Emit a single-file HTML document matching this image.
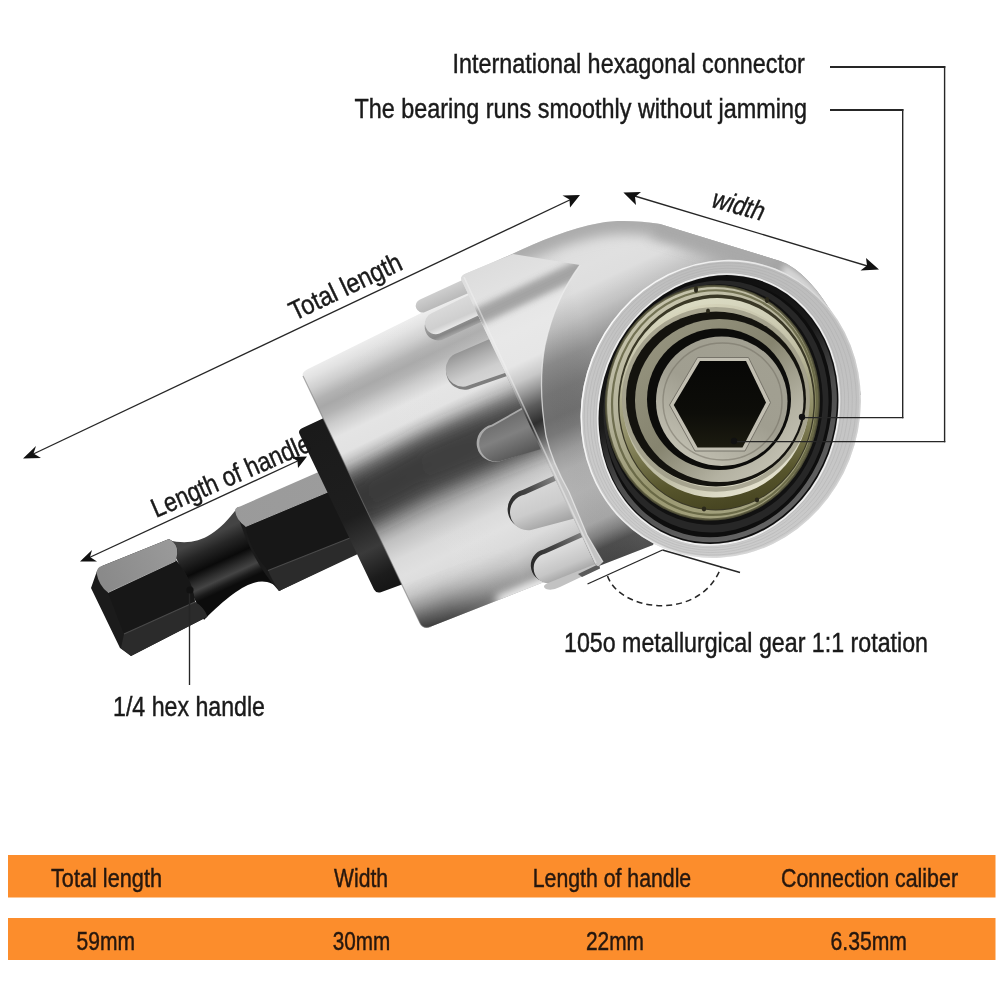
<!DOCTYPE html>
<html><head><meta charset="utf-8">
<style>
html,body{margin:0;padding:0;background:#fff;}
body{width:1000px;height:1000px;overflow:hidden;font-family:"Liberation Sans",sans-serif;}
svg{position:absolute;left:0;top:0;display:block}
text{font-family:"Liberation Sans",sans-serif;fill:#1a1a1a;stroke:#1a1a1a;stroke-width:0.45px}
</style></head>
<body>
<svg width="1000" height="1000" viewBox="0 0 1000 1000">
<defs>
<linearGradient id="gHexTop" gradientUnits="userSpaceOnUse" x1="100" y1="570" x2="330" y2="470">
  <stop offset="0" stop-color="#8a8a8a"/><stop offset="0.3" stop-color="#999"/><stop offset="1" stop-color="#9c9c9c"/>
</linearGradient>
<linearGradient id="gNeck" gradientUnits="userSpaceOnUse" x1="205" y1="538" x2="228" y2="588">
  <stop offset="0" stop-color="#444"/><stop offset="0.22" stop-color="#262626"/><stop offset="0.5" stop-color="#0a0a0a"/><stop offset="0.68" stop-color="#2e2e2e"/><stop offset="0.8" stop-color="#444"/><stop offset="0.92" stop-color="#1c1c1c"/><stop offset="1" stop-color="#0c0c0c"/>
</linearGradient>
<linearGradient id="gCollarB" gradientUnits="userSpaceOnUse" x1="310" y1="425" x2="392" y2="590">
  <stop offset="0" stop-color="#1a1a1a"/><stop offset="0.55" stop-color="#1e1e1e"/><stop offset="0.75" stop-color="#3a3a3a"/><stop offset="0.9" stop-color="#1c1c1c"/><stop offset="1" stop-color="#141414"/>
</linearGradient>
<linearGradient id="gBody" gradientUnits="userSpaceOnUse" x1="304" y1="371" x2="427.5" y2="627.5">
  <stop offset="0" stop-color="#ececec"/>
  <stop offset="0.03" stop-color="#e2e2e2"/>
  <stop offset="0.07" stop-color="#cecece"/>
  <stop offset="0.11" stop-color="#b2b2b2"/>
  <stop offset="0.14" stop-color="#a8a8a8"/>
  <stop offset="0.17" stop-color="#b2b2b2"/>
  <stop offset="0.21" stop-color="#cccccc"/>
  <stop offset="0.26" stop-color="#e4e4e4"/>
  <stop offset="0.32" stop-color="#e2e2e2"/>
  <stop offset="0.36" stop-color="#c0c0c0"/>
  <stop offset="0.40" stop-color="#929292"/>
  <stop offset="0.46" stop-color="#707070"/>
  <stop offset="0.56" stop-color="#707070"/>
  <stop offset="0.62" stop-color="#9a9a9a"/>
  <stop offset="0.67" stop-color="#c0c0c0"/>
  <stop offset="0.74" stop-color="#dadada"/>
  <stop offset="0.80" stop-color="#e0e0e0"/>
  <stop offset="0.87" stop-color="#dadada"/>
  <stop offset="0.92" stop-color="#c8c8c8"/>
  <stop offset="0.97" stop-color="#a8a8a8"/>
  <stop offset="1" stop-color="#909090"/>
</linearGradient>
<linearGradient id="gBodyX" gradientUnits="userSpaceOnUse" x1="365" y1="500" x2="560" y2="410">
  <stop offset="0" stop-color="#fff" stop-opacity="0"/><stop offset="0.5" stop-color="#fff" stop-opacity="0.03"/><stop offset="1" stop-color="#fff" stop-opacity="0.10"/>
</linearGradient>
<linearGradient id="gDarkBand" gradientUnits="userSpaceOnUse" x1="340" y1="507" x2="550" y2="417">
  <stop offset="0" stop-color="#363636" stop-opacity="0.97"/><stop offset="0.6" stop-color="#3c3c3c" stop-opacity="0.95"/><stop offset="1" stop-color="#444444" stop-opacity="0.9"/>
</linearGradient>
<filter id="blur7" x="-30%" y="-30%" width="160%" height="160%"><feGaussianBlur stdDeviation="7"/></filter>
<clipPath id="cpBody"><path d="M309,368.5 L480,284 L610,556 L431,626.5 Q423,629.5 420,623 L303,376 Q301,372 309,368.5 Z"/></clipPath>
<linearGradient id="gDarkBot" gradientUnits="userSpaceOnUse" x1="420" y1="628" x2="526.8" y2="586.6">
  <stop offset="0" stop-color="#343434" stop-opacity="0.95"/><stop offset="0.3" stop-color="#3c3c3c" stop-opacity="0.7"/><stop offset="0.65" stop-color="#484848" stop-opacity="0.3"/><stop offset="1" stop-color="#505050" stop-opacity="0"/>
</linearGradient>
<filter id="blur5" x="-30%" y="-30%" width="160%" height="160%"><feGaussianBlur stdDeviation="5"/></filter>
<filter id="blur9" x="-30%" y="-30%" width="160%" height="160%"><feGaussianBlur stdDeviation="9"/></filter>
<linearGradient id="gBotPerp" gradientUnits="userSpaceOnUse" x1="440" y1="623" x2="422" y2="576.5">
  <stop offset="0" stop-color="#303030" stop-opacity="0.97"/><stop offset="0.2" stop-color="#404040" stop-opacity="0.8"/><stop offset="0.45" stop-color="#555" stop-opacity="0.5"/><stop offset="0.7" stop-color="#666" stop-opacity="0.22"/><stop offset="1" stop-color="#777" stop-opacity="0"/>
</linearGradient>
<linearGradient id="gAxialFade" gradientUnits="userSpaceOnUse" x1="415" y1="630" x2="525" y2="586">
  <stop offset="0" stop-color="#fff"/><stop offset="0.35" stop-color="#bbb"/><stop offset="0.7" stop-color="#444"/><stop offset="1" stop-color="#000"/>
</linearGradient>
<mask id="mBot" maskUnits="userSpaceOnUse" x="300" y="480" width="340" height="200"><rect x="300" y="480" width="340" height="200" fill="url(#gAxialFade)"/></mask>
<linearGradient id="gRib1" gradientUnits="userSpaceOnUse" x1="440" y1="290" x2="446" y2="304">
  <stop offset="0" stop-color="#cfcfcf"/><stop offset="1" stop-color="#b8b8b8"/>
</linearGradient>
<linearGradient id="gRibSh" gradientUnits="userSpaceOnUse" x1="452" y1="320" x2="459" y2="336">
  <stop offset="0" stop-color="#9a9a9a"/><stop offset="0.55" stop-color="#868686"/><stop offset="1" stop-color="#bdbdbd"/>
</linearGradient>
<linearGradient id="gRib2" gradientUnits="userSpaceOnUse" x1="450" y1="303" x2="459" y2="324">
  <stop offset="0" stop-color="#dadada"/><stop offset="0.75" stop-color="#cfcfcf"/><stop offset="1" stop-color="#e6e6e6"/>
</linearGradient>
<linearGradient id="gRib3" gradientUnits="userSpaceOnUse" x1="470" y1="346" x2="486" y2="382"><stop offset="0" stop-color="#929292"/><stop offset="0.35" stop-color="#b2b2b2"/><stop offset="0.7" stop-color="#cecece"/><stop offset="1" stop-color="#d6d6d6"/></linearGradient>
<linearGradient id="gRib3b" gradientUnits="userSpaceOnUse" x1="505" y1="416" x2="522" y2="455"><stop offset="0" stop-color="#6c6c6c"/><stop offset="0.45" stop-color="#808080"/><stop offset="1" stop-color="#585858"/></linearGradient>
<linearGradient id="gRib4" gradientUnits="userSpaceOnUse" x1="540" y1="488" x2="554" y2="525">
  <stop offset="0" stop-color="#d6d6d6"/><stop offset="0.5" stop-color="#cccccc"/><stop offset="1" stop-color="#a4a4a4"/>
</linearGradient>
<linearGradient id="gRib5" gradientUnits="userSpaceOnUse" x1="560" y1="546" x2="573" y2="578">
  <stop offset="0" stop-color="#dedede"/><stop offset="0.6" stop-color="#c6c6c6"/><stop offset="1" stop-color="#9c9c9c"/>
</linearGradient>
<linearGradient id="gRibShadow4" gradientUnits="userSpaceOnUse" x1="510" y1="505" x2="560" y2="482">
  <stop offset="0" stop-color="#2c2c2c"/><stop offset="0.45" stop-color="#484848"/><stop offset="1" stop-color="#8c8c8c"/>
</linearGradient>
<linearGradient id="gRibShadow5" gradientUnits="userSpaceOnUse" x1="533" y1="562" x2="585" y2="538">
  <stop offset="0" stop-color="#2a2a2a"/><stop offset="0.45" stop-color="#444444"/><stop offset="1" stop-color="#808080"/>
</linearGradient>
<linearGradient id="gHeadSurf" gradientUnits="userSpaceOnUse" x1="560" y1="222" x2="720.7" y2="566.3">
  <stop offset="0" stop-color="#d4d4d4"/>
  <stop offset="0.06" stop-color="#dcdcdc"/>
  <stop offset="0.134" stop-color="#dedede"/>
  <stop offset="0.184" stop-color="#dcdcdc"/>
  <stop offset="0.247" stop-color="#bebebe"/>
  <stop offset="0.329" stop-color="#8a8a8a"/>
  <stop offset="0.40" stop-color="#747474"/>
  <stop offset="0.462" stop-color="#6e6e6e"/>
  <stop offset="0.50" stop-color="#787878"/>
  <stop offset="0.553" stop-color="#9c9c9c"/>
  <stop offset="0.60" stop-color="#aeaeae"/>
  <stop offset="0.667" stop-color="#b2b2b2"/>
  <stop offset="0.755" stop-color="#a6a6a6"/>
  <stop offset="0.79" stop-color="#808080"/>
  <stop offset="0.825" stop-color="#4c4c4c"/>
  <stop offset="0.9" stop-color="#404040"/>
  <stop offset="1" stop-color="#404040"/>
</linearGradient>
<linearGradient id="gHeadSurfX" gradientUnits="userSpaceOnUse" x1="545" y1="400" x2="600" y2="385">
  <stop offset="0" stop-color="#000" stop-opacity="0"/><stop offset="1" stop-color="#fff" stop-opacity="0.06"/>
</linearGradient>
<linearGradient id="gWedge" gradientUnits="userSpaceOnUse" x1="500" y1="255" x2="589.7" y2="447">
  <stop offset="0" stop-color="#dcdcdc"/>
  <stop offset="0.21" stop-color="#e4e4e4"/>
  <stop offset="0.36" stop-color="#e8e8e8"/>
  <stop offset="0.50" stop-color="#e6e6e6"/>
  <stop offset="0.58" stop-color="#c8c8c8"/>
  <stop offset="0.64" stop-color="#989898"/>
  <stop offset="0.71" stop-color="#5c5c5c"/>
  <stop offset="0.79" stop-color="#2e2e2e"/>
  <stop offset="0.86" stop-color="#5a5a5a"/>
  <stop offset="0.92" stop-color="#909090"/>
  <stop offset="1" stop-color="#c4c4c4"/>
</linearGradient>
<linearGradient id="gRim" gradientUnits="userSpaceOnUse" x1="700" y1="258" x2="740" y2="556">
  <stop offset="0" stop-color="#bcbcbc"/>
  <stop offset="0.4" stop-color="#c4c4c4"/>
  <stop offset="1" stop-color="#cccccc"/>
</linearGradient>
<radialGradient id="gBlackRing" gradientUnits="userSpaceOnUse" cx="715" cy="400" r="135">
  <stop offset="0.75" stop-color="#2e2e2e"/><stop offset="0.86" stop-color="#1a1a1a"/><stop offset="1" stop-color="#0e0e0e"/>
</radialGradient>
<linearGradient id="gRaceO" gradientUnits="userSpaceOnUse" x1="640" y1="300" x2="790" y2="510">
  <stop offset="0" stop-color="#c8c6ae"/><stop offset="0.35" stop-color="#b4b29a"/><stop offset="0.65" stop-color="#98966f"/><stop offset="1" stop-color="#a8a684"/>
</linearGradient>
<linearGradient id="gShield" gradientUnits="userSpaceOnUse" x1="690" y1="298" x2="735" y2="510">
  <stop offset="0" stop-color="#dcdcc4"/><stop offset="0.3" stop-color="#c2c0a6"/><stop offset="0.6" stop-color="#8e8c64"/><stop offset="0.85" stop-color="#57552c"/><stop offset="1" stop-color="#454320"/>
</linearGradient>
<linearGradient id="gRaceI" gradientUnits="userSpaceOnUse" x1="650" y1="330" x2="790" y2="480">
  <stop offset="0" stop-color="#96947f"/><stop offset="0.45" stop-color="#86846f"/><stop offset="0.75" stop-color="#b4b2a2"/><stop offset="1" stop-color="#cac8ba"/>
</linearGradient>
<linearGradient id="gHexPiece" gradientUnits="userSpaceOnUse" x1="760" y1="345" x2="690" y2="460">
  <stop offset="0" stop-color="#a2a092"/><stop offset="0.5" stop-color="#a09e90"/><stop offset="1" stop-color="#c2c0b2"/>
</linearGradient>
<linearGradient id="gHole" gradientUnits="userSpaceOnUse" x1="720" y1="361" x2="720" y2="448">
  <stop offset="0" stop-color="#070706"/><stop offset="0.6" stop-color="#0d0d09"/><stop offset="1" stop-color="#1c1b10"/>
</linearGradient>
<clipPath id="cpHead"><path d="M466,273.5 L510,255 C540,241 570,228 600,223 C618,219.5 640,221 660,224 L780,261 C812,272 850,328 861,395 L723,404 L653,545 L599,566 Q596,567 594.5,563 L461.5,280 Q460,276 466,273.5 Z"/></clipPath>
<filter id="blur3" x="-20%" y="-20%" width="140%" height="140%"><feGaussianBlur stdDeviation="3"/></filter>
<filter id="blur6" x="-20%" y="-20%" width="140%" height="140%"><feGaussianBlur stdDeviation="6"/></filter>
<linearGradient id="gLip" gradientUnits="userSpaceOnUse" x1="660" y1="310" x2="770" y2="495">
  <stop offset="0" stop-color="#dad8be"/><stop offset="0.35" stop-color="#c2c0a8"/><stop offset="0.7" stop-color="#c0bea6"/><stop offset="0.9" stop-color="#dedcc8"/><stop offset="1" stop-color="#ece8d4"/>
</linearGradient>
<linearGradient id="gRimShade" gradientUnits="userSpaceOnUse" x1="640" y1="330" x2="800" y2="490">
  <stop offset="0" stop-color="#555" stop-opacity="0"/>
  <stop offset="0.35" stop-color="#555" stop-opacity="0"/>
  <stop offset="0.7" stop-color="#505050" stop-opacity="0.7"/>
  <stop offset="1" stop-color="#484848" stop-opacity="0.85"/>
</linearGradient>
<filter id="blur2" x="-20%" y="-20%" width="140%" height="140%"><feGaussianBlur stdDeviation="2.2"/></filter>
<linearGradient id="gRimShade2" gradientUnits="userSpaceOnUse" x1="770" y1="400" x2="850" y2="415">
  <stop offset="0" stop-color="#555" stop-opacity="0"/>
  <stop offset="0.5" stop-color="#555" stop-opacity="0.25"/>
  <stop offset="1" stop-color="#505050" stop-opacity="0.7"/>
</linearGradient>
<linearGradient id="gRimTint" gradientUnits="userSpaceOnUse" x1="660" y1="270" x2="760" y2="550">
  <stop offset="0" stop-color="#000" stop-opacity="0.10"/>
  <stop offset="0.5" stop-color="#000" stop-opacity="0.02"/>
  <stop offset="1" stop-color="#fff" stop-opacity="0.18"/>
</linearGradient>
<clipPath id="cpWedge"><path d="M466,273.5 L513,254 L580,265 C566,284 552,312 545,345 C540,372 540,400 546,436 C551,458 560,476 569,492 L587,535 L603,562 L599,566 Q596,567 594.5,563 L461.5,280 Q460,276 466,273.5 Z"/></clipPath>
<linearGradient id="gRimEdge" gradientUnits="userSpaceOnUse" x1="590" y1="400" x2="800" y2="420">
  <stop offset="0" stop-color="#fafafa" stop-opacity="0.95"/>
  <stop offset="0.6" stop-color="#f4f4f4" stop-opacity="0.7"/>
  <stop offset="1" stop-color="#eeeeee" stop-opacity="0.3"/>
</linearGradient>
<linearGradient id="gRingBand" gradientUnits="userSpaceOnUse" x1="640" y1="320" x2="800" y2="500">
  <stop offset="0" stop-color="#5c5c5c" stop-opacity="0"/>
  <stop offset="0.35" stop-color="#5c5c5c" stop-opacity="0.15"/>
  <stop offset="0.6" stop-color="#5c5c5c" stop-opacity="0.8"/>
  <stop offset="1" stop-color="#626262" stop-opacity="1"/>
</linearGradient>

</defs>
<rect width="1000" height="1000" fill="#ffffff"/>

<!-- ===== TOOL ===== -->
<g id="tool">
<!-- ===== handle (hex shank) ===== -->
<g id="handle">
  <!-- neck groove -->
  <path d="M168,540 C195,547 215,538 238,507 L281,591 C263,571 240,584 204,620 Z" fill="url(#gNeck)"/>
  <!-- left hex section -->
  <path d="M97,571 L91,588 L120,648 L131,656 L207,617 Q204,607 195,602 Q192,578 176,560 Q181,545 169,539 L102,566 Z" fill="#1b1b1b"/>
  <path d="M96.5,573 Q97,567 102,566 L169,539 Q181,545 175.5,561 L108,592.5 Q99,586 96.5,573 Z" fill="url(#gHexTop)"/>
  <path d="M108,592.5 L175.5,561 Q192,578 195,602 L124,634 Z" fill="#171717"/>
  <path d="M124,634 L195,602 Q204,607 207.5,616.5 L131,656 L121,648 Z" fill="#2b2b2b"/>
  <path d="M124,634 L195,602" stroke="#4a4a4a" stroke-width="1.2" fill="none"/>
  <path id="edgeL" d="M108,592.5 L175.5,561" stroke="#a8a8a8" stroke-width="1" fill="none"/>
  <!-- right hex section -->
  <path d="M236,509 L330,468 L360,552 L279,591 Q250,560 236,509 Z" fill="#1b1b1b"/>
  <path d="M235,510 Q236,507 240,506.5 L330,467 L335,489 L245.5,526.5 Q236,520 235,510 Z" fill="url(#gHexTop)"/>
  <path d="M245.5,526.5 L335,489 L350,541 L268,570.5 Q250,550 245.5,526.5 Z" fill="#171717"/>
  <path d="M268,570.5 L350,538 L360,553 L279,591 Q272,580 268,570.5 Z" fill="#2b2b2b"/>
  <path d="M268,570.5 L350,538" stroke="#4a4a4a" stroke-width="1.2" fill="none"/>
  <path d="M245.5,526.5 L335,489" stroke="#a8a8a8" stroke-width="1" fill="none"/>
</g>
<!-- ===== black collar ===== -->
<path d="M303.5,427.5 L326,417 L406,583 L381.5,592 Q376.5,594 374,589.5 L299.5,434 Q297.5,430 303.5,427.5 Z" fill="url(#gCollarB)"/>
<!-- ===== body ===== -->
<path d="M309,368.5 L480,284 L610,556 L431,626.5 Q423,629.5 420,623 L303,376 Q301,372 309,368.5 Z" fill="url(#gBody)"/>
<path d="M309,368.5 L480,284 L610,556 L431,626.5 Q423,629.5 420,623 L303,376 Q301,372 309,368.5 Z" fill="url(#gBodyX)"/>
<g clip-path="url(#cpBody)"><path d="M325,489 L340,482 L361,472 L380,462 L425,438 L465,421 L500,407 L555,385 L555,441 L500,463 L465,477 L425,494 L380,518 L361,528 L340,538 L325,545 Z" fill="url(#gDarkBand)" filter="url(#blur9)"/><path d="M380,660 L600,575 L580,520 L360,600 Z" fill="url(#gBotPerp)" mask="url(#mBot)"/><path id="botHi" d="M498,603 L610,558" fill="none" stroke="#f6f6f6" stroke-opacity="0.92" stroke-width="16" filter="url(#blur5)"/></g>
<path id="bodyEdge" d="M303,376 L420,623 Q423,629.5 431,626.5" fill="none" stroke="#707070" stroke-opacity="0.55" stroke-width="1.2"/>
<!-- ===== ribs on body ===== -->
<g id="ribs">
<path d="M470.0,276.5 L420.0,299.5 A6.7,6.7 0 0 0 425.0,312.0 L480.0,288.0 Z" fill="url(#gRib1)" />
<path d="M478.0,291.5 L433.0,314.0 A13.8,13.8 0 0 0 442.0,340.0 L492.0,317.0 Z" fill="url(#gRibSh)" />
<path d="M478.0,290.5 L432.0,313.0 A10.9,10.9 0 0 0 439.5,333.5 L488.0,311.0 Z" fill="url(#gRib2)" />
<path d="M500.0,335.5 L459.0,353.5 A18.6,18.6 0 0 0 468.0,389.5 L516.0,373.0 Z" fill="#7e7e7e" />
<path d="M500.0,334.5 L458.5,352.5 A17.4,17.4 0 0 0 465.5,386.5 L514.0,370.0 Z" fill="url(#gRib3)" />
<path d="M531.0,402.5 L491.6,424.8 A18.7,18.7 0 0 0 499.2,461.5 L547.0,446.0 Z" fill="#aaaaaa" />
<path d="M532.0,404.0 L492.8,426.2 A17.9,17.9 0 0 0 499.6,461.3 L548.0,447.0 Z" fill="url(#gRib3b)" />
<path d="M560.0,473.0 L522.5,490.0 A19.9,19.9 0 0 0 530.0,529.0 L578.0,516.5 Z" fill="url(#gRibShadow4)" />
<path d="M562.0,478.0 L525.0,494.5 A18.0,18.0 0 0 0 531.0,530.0 L580.0,517.0 Z" fill="url(#gRib4)" />
<path d="M584.0,531.0 L543.5,549.5 A16.4,16.4 0 0 0 551.0,581.5 L598.0,561.5 Z" fill="url(#gRibShadow5)" />
<path d="M586.0,535.5 L545.5,553.5 A15.1,15.1 0 0 0 552.0,583.0 L600.0,563.0 Z" fill="url(#gRib5)" />
<path d="M548,583 Q541,586 546,589 Q552,591 560,587 L600,568 L598,563 Z" fill="#c2c2c2"/>
<path d="M578,574 L599,564 L600,568.5 L582,577 Z" fill="#5a5a5a"/>
</g>
<!-- ===== head (elbow + socket) ===== -->
<g id="head">
  <g clip-path="url(#cpHead)">
    <rect x="440" y="200" width="440" height="380" fill="url(#gHeadSurf)"/>
    <rect x="440" y="200" width="440" height="380" fill="url(#gHeadSurfX)"/>
    <!-- edge darkening along top silhouette -->
    <path d="M500,258 C540,241 570,228 600,223 C618,219.5 640,221 660,224 L775,259.5" fill="none" stroke="#acacac" stroke-width="26" filter="url(#blur6)"/>
    <path d="M655,223 L790,265" fill="none" stroke="#a8a8a8" stroke-width="30" filter="url(#blur6)" opacity="0.85"/>
    <path d="M782,270 C812,282 846,330 857,392" fill="none" stroke="#d6d6d6" stroke-width="14" filter="url(#blur3)"/>
    <!-- highlight band -->
  </g>
  <!-- collar + elbow wedge (left of crease) -->
  <path d="M466,273.5 L513,254 L580,265 C566,284 552,312 545,345 C540,372 540,400 546,436 C551,458 560,476 569,492 L587,535 L603,562 L599,566 Q596,567 594.5,563 L461.5,280 Q460,276 466,273.5 Z" fill="url(#gWedge)"/>
  <g clip-path="url(#cpWedge)"><path id="foldBand" d="M452,329 L606,256" fill="none" stroke="#9c9c9c" stroke-width="17" filter="url(#blur3)" opacity="0.9"/></g>
  <path d="M464,277 L596,563" stroke="#f2f2f2" stroke-opacity="0.5" stroke-width="1.6" fill="none"/>
  <path d="M580,265 C566,284 552,312 545,345 C540,372 540,400 546,436 C551,458 560,476 569,492 L587,535 L603,562" stroke="#ececec" stroke-opacity="0.75" stroke-width="1.3" fill="none"/>
</g>
<!-- ===== front face ===== -->
<g id="face">
<ellipse cx="720.7" cy="408.9" rx="138.5" ry="150.6" transform="rotate(21.3 720.7 408.9)" fill="url(#gRim)" />
<ellipse cx="720.26" cy="409.02" rx="134.52" ry="147.6" transform="rotate(20.14 720.26 409.02)" fill="none" stroke="#a4a4a4" stroke-opacity="0.35" stroke-width="0.9"/>
<ellipse cx="719.86" cy="409.13" rx="130.94" ry="144.9" transform="rotate(19.1 719.86 409.13)" fill="none" stroke="#a4a4a4" stroke-opacity="0.3" stroke-width="0.9"/>
<ellipse cx="719.49" cy="409.23" rx="127.55" ry="142.35" transform="rotate(18.11 719.49 409.23)" fill="none" stroke="#a4a4a4" stroke-opacity="0.35" stroke-width="0.9"/>
<ellipse cx="719.12" cy="409.33" rx="124.17" ry="139.8" transform="rotate(17.12 719.12 409.33)" fill="none" stroke="#a4a4a4" stroke-opacity="0.3" stroke-width="0.9"/>
<ellipse cx="718.81" cy="409.42" rx="121.39" ry="137.7" transform="rotate(16.31 718.81 409.42)" fill="none" stroke="#a4a4a4" stroke-opacity="0.3" stroke-width="0.9"/>
<ellipse cx="720.7" cy="408.9" rx="137.7" ry="149.79999999999998" transform="rotate(21.3 720.7 408.9)" fill="none" stroke="url(#gRimEdge)" stroke-width="1.6"/>
<ellipse cx="718.5" cy="409.5" rx="119.6" ry="136.6" transform="rotate(15.5 718.5 409.5)" fill="none" stroke="#f4f4f4" stroke-opacity="0.85" stroke-width="1.6"/>
<ellipse cx="718.5" cy="409.5" rx="118.6" ry="135.6" transform="rotate(15.5 718.5 409.5)" fill="#0e0e0e" />
<ellipse cx="718.1" cy="409.1" rx="115.0" ry="131.79999999999998" transform="rotate(15.5 718.1 409.1)" fill="none" stroke="url(#gRingBand)" stroke-width="5"/>
<ellipse cx="716" cy="406.5" rx="112" ry="126.5" transform="rotate(11 716 406.5)" fill="#2a2a2a" opacity="0.9"/>
<ellipse cx="714" cy="404.5" rx="108.5" ry="120.5" transform="rotate(8 714 404.5)" fill="#111111" />
<ellipse cx="712.4" cy="402.7" rx="106.3" ry="116.9" transform="rotate(6 712.4 402.7)" fill="url(#gRaceO)" />
<ellipse cx="712.4" cy="402.7" rx="106.3" ry="116.9" transform="rotate(6 712.4 402.7)" fill="none" stroke="#55533a" stroke-opacity="0.85" stroke-width="2.2"/>
<ellipse id="raceLine" cx="714.4" cy="402.6" rx="102.3" ry="112.4" transform="rotate(4.5 714.4 402.6)" fill="none" stroke="#5a5a38" stroke-opacity="0.75" stroke-width="2.2"/>
<ellipse cx="716.50" cy="402.50" rx="98.50" ry="108.00" fill="#3a3826" transform="rotate(3 716.5 402.5)"/>
<ellipse cx="716.50" cy="403.75" rx="97.00" ry="105.75" fill="url(#gShield)" transform="rotate(3 716.5 403.7)"/>
<ellipse cx="716.00" cy="400.75" rx="93.50" ry="96.75" fill="url(#gLip)" transform="rotate(2 716 400.7)"/>
<ellipse id="lipInner" cx="716.00" cy="399.4" rx="91.8" ry="90.2" fill="none" stroke="#9c9a86" stroke-opacity="0.8" stroke-width="4.5"/>
<ellipse cx="716.00" cy="399.05" rx="90.00" ry="87.45" fill="#14130e" />
<ellipse cx="719.25" cy="400.50" rx="84.25" ry="81.50" fill="url(#gRaceI)" />
<ellipse cx="719.00" cy="399.25" rx="72.00" ry="70.75" fill="#0c0c0a" />
<ellipse cx="721.75" cy="401.25" rx="65.75" ry="64.75" fill="url(#gHexPiece)" />
<ellipse cx="722.50" cy="401.50" rx="59.50" ry="58.50" fill="none" stroke="#6f6c60" stroke-opacity="0.5" stroke-width="1.4"/>
<path d="M669.5,405 L697.5,357.5 L748.5,357.5 L770.5,402.5 L745,451 L695,451 Z" fill="#c2bfb2" stroke="#77746a" stroke-width="1"/>
<path d="M673.75,405 L700,361 L746,361 L766,402.5 L742.5,447.5 L697.5,447.5 Z" fill="url(#gHole)"/>
<g fill="#2a281a"><ellipse cx="696" cy="289.5" rx="2" ry="3.2"/><ellipse cx="767" cy="300" rx="2" ry="3"/><ellipse cx="708" cy="311" rx="2" ry="2.6"/><ellipse cx="704" cy="509" rx="2.2" ry="2.4"/><ellipse cx="757" cy="500" rx="2.2" ry="2.4"/></g>
</g>

</g>

<!-- ===== leader lines & arrows ===== -->
<g id="lines" fill="none" stroke="#262626" stroke-width="1.35">
<path d="M830,67 H945.3" stroke-width="2.1"/><path d="M944.6,66 V442.3" stroke-width="1.4"/><path d="M945.3,441.6 H734" stroke-width="1.4"/>
<path d="M830,110 H903.4" stroke-width="2.1"/><path d="M902.7,109 V418.3" stroke-width="1.4"/><path d="M903.4,417.6 H802" stroke-width="1.4"/>
<path d="M189.5,590 V685"/>
<path d="M27,457 L576,197"/>
<path d="M84,560 L303,458.5"/>
<path d="M628,194 L874,268"/>
<path d="M662.5,550 L587.5,584"/>
<path d="M662.5,550 L740,572.5"/>
<path d="M607.5,576 C620,612 700,622 721,567.5" stroke-dasharray="6,4" stroke-width="1.5"/>
</g>
<g id="heads" fill="#111">
<circle cx="734" cy="441" r="3.2"/>
<circle cx="802" cy="417" r="3.2"/>
<circle cx="190" cy="590" r="3.6"/>
<!-- arrowheads -->
<path d="M23,458.6 L36,446 L33.5,453.5 L41,458 Z"/>
<path d="M580,195 L562.5,195.5 L569.5,199.5 L570,207.5 Z"/>
<path d="M80,561.6 L92,550 L90,557 L97,561.6 Z"/>
<path d="M307,456.5 L291,457 L297.5,461 L298,468 Z"/>
<path d="M623.4,192.4 L641,192 L635,197 L636,205 Z"/>
<path d="M879,269.5 L866,258 L867,265.5 L860.5,270.5 Z"/>
</g>

<!-- ===== labels ===== -->
<g id="labels" font-size="27" opacity="0.999">
<text x="452.4" y="72.5" textLength="352.4" lengthAdjust="spacingAndGlyphs">International hexagonal connector</text>
<text x="354.4" y="117.5" textLength="452.6" lengthAdjust="spacingAndGlyphs">The bearing runs smoothly without jamming</text>
<text x="564" y="652" textLength="364" lengthAdjust="spacingAndGlyphs">105o metallurgical gear 1:1 rotation</text>
<text x="113" y="715.6" textLength="152" lengthAdjust="spacingAndGlyphs">1/4 hex handle</text>
<text transform="translate(294.4,321) rotate(-25.5)" textLength="121.5" lengthAdjust="spacingAndGlyphs">Total length</text>
<text transform="translate(156,518) rotate(-23.4)" textLength="171" lengthAdjust="spacingAndGlyphs">Length of handle</text>
<text transform="translate(709.5,206.5) rotate(15.5) skewX(-10)" font-size="27" textLength="53" lengthAdjust="spacingAndGlyphs">width</text>
</g>

<!-- ===== table ===== -->
<g id="table" opacity="0.999">
<rect x="8" y="855" width="987.5" height="42.5" fill="#fc8d2c"/>
<rect x="8" y="918" width="987.5" height="42" fill="#fc8d2c"/>
<g font-size="25.5" style="fill:#2a160a">
<text x="51" y="887" textLength="111" lengthAdjust="spacingAndGlyphs" style="fill:#2a160a">Total length</text>
<text x="334" y="887" textLength="54" lengthAdjust="spacingAndGlyphs" style="fill:#2a160a">Width</text>
<text x="532.8" y="887" textLength="158.4" lengthAdjust="spacingAndGlyphs" style="fill:#2a160a">Length of handle</text>
<text x="781" y="887" textLength="177" lengthAdjust="spacingAndGlyphs" style="fill:#2a160a">Connection caliber</text>
<text x="76.5" y="949.5" textLength="58.5" lengthAdjust="spacingAndGlyphs" style="fill:#2a160a">59mm</text>
<text x="332.8" y="949.5" textLength="57.5" lengthAdjust="spacingAndGlyphs" style="fill:#2a160a">30mm</text>
<text x="586" y="949.5" textLength="58" lengthAdjust="spacingAndGlyphs" style="fill:#2a160a">22mm</text>
<text x="830.5" y="949.5" textLength="76.5" lengthAdjust="spacingAndGlyphs" style="fill:#2a160a">6.35mm</text>
</g>
</g>
</svg>
</body></html>
